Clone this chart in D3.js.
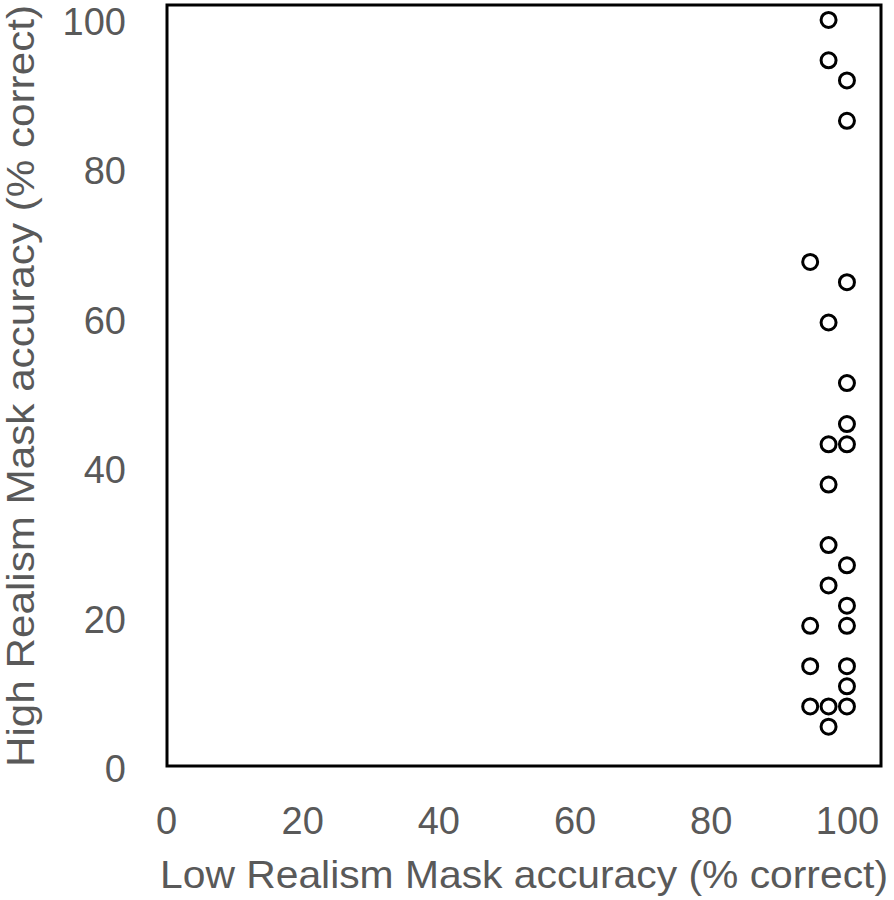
<!DOCTYPE html>
<html>
<head>
<meta charset="utf-8">
<script src="https://cdn.jsdelivr.net/npm/d3@7"></script>
<style>
  html, body { margin: 0; padding: 0; background: #fff; }
  svg { display: block; }
  text { font-family: "Liberation Sans", Arial, Helvetica, sans-serif; fill: #595959; }
</style>
</head>
<body>
<script>
// Data
const lowRealism  = [97.3, 97.3, 100, 100, 94.6, 100, 97.3, 100, 100, 97.3, 100, 97.3, 97.3, 100, 97.3, 100, 94.6, 100, 94.6, 100, 100, 94.6, 97.3, 100, 97.3];
const highRealism = [100, 94.6, 91.9, 86.5, 67.6, 64.9, 59.5, 51.4, 45.9, 43.2, 43.2, 37.8, 29.7, 27.0, 24.3, 21.6, 18.9, 18.9, 13.5, 13.5, 10.8, 8.1, 8.1, 8.1, 5.4];
const xTicks = [0, 20, 40, 60, 80, 100];
const yTicks = [0, 20, 40, 60, 80, 100];
const xTitle = "Low Realism Mask accuracy (% correct)";
const yTitle = "High Realism Mask accuracy (% correct)";

const points = lowRealism.map((x, i) => ({ x, y: highRealism[i] }));

const W = 894, H = 900;
const svg = d3.select("body").append("svg").attr("width", W).attr("height", H);

const x = d3.scaleLinear().domain([0, 105]).range([166, 881]);
const y = d3.scaleLinear().domain([0, 102]).range([767, 5]);

const fontFam = "'Liberation Sans', Arial, Helvetica, sans-serif";

// Y axis labels
const yAxis = svg.append("g")
  .attr("transform", `translate(${x(0)},0)`)
  .call(d3.axisLeft(y).tickValues(yTicks).tickSize(0).tickPadding(40).tickFormat(d3.format("d")));
yAxis.select(".domain").remove();
yAxis.selectAll("text")
  .attr("dy", "0.38em")
  .style("font-size", "38px").attr("fill", "#595959")
  .style("font-family", fontFam);

// X axis labels
const xAxis = svg.append("g")
  .attr("transform", `translate(0,${y(0)})`)
  .call(d3.axisBottom(x).tickValues(xTicks).tickSize(0).tickPadding(40).tickFormat(d3.format("d")));
xAxis.select(".domain").remove();
xAxis.selectAll("text")
  .style("font-size", "38px").attr("fill", "#595959")
  .style("font-family", fontFam);

// Plot frame
svg.append("rect")
  .attr("x", 167).attr("y", 5)
  .attr("width", 714).attr("height", 761)
  .attr("fill", "none").attr("stroke", "#000").attr("stroke-width", 3);

// Points
svg.append("g").selectAll("circle").data(points).join("circle")
  .attr("cx", d => x(d.x))
  .attr("cy", d => y(d.y))
  .attr("r", 7.5)
  .attr("fill", "none")
  .attr("stroke", "#000")
  .attr("stroke-width", 3);

// Axis titles
svg.append("text")
  .attr("x", 524).attr("y", 888)
  .attr("text-anchor", "middle")
  .style("font-size", "39px")
  .attr("textLength", 728).attr("lengthAdjust", "spacingAndGlyphs")
  .text(xTitle);

svg.append("text")
  .attr("transform", "translate(34,386) rotate(-90)")
  .attr("text-anchor", "middle")
  .style("font-size", "38.5px")
  .attr("textLength", 762).attr("lengthAdjust", "spacingAndGlyphs")
  .text(yTitle);
</script>
</body>
</html>
